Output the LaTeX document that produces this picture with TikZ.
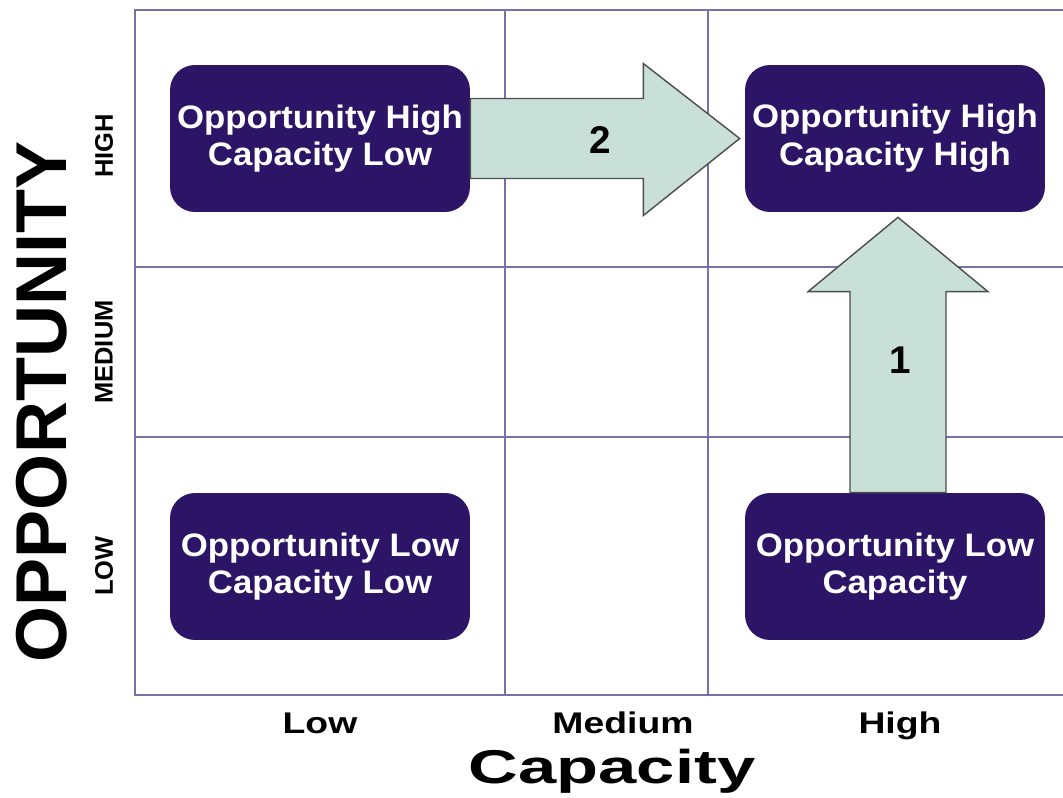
\documentclass[tikz,border=0pt]{standalone}
\usepackage{fontspec}
\setmainfont{Liberation Sans}
\newfontfamily\boxfont[FakeStretch=1.07]{Liberation Sans}
\newfontfamily\colfont[FakeStretch=1.25]{Liberation Sans}
\newfontfamily\capfont[FakeStretch=1.45]{Liberation Sans}
\usetikzlibrary{positioning,calc}

\definecolor{boxfill}{RGB}{44,21,102}
\definecolor{arrowfill}{RGB}{201,224,216}
\definecolor{gridcol}{RGB}{118,114,168}

\begin{document}
\begin{tikzpicture}[x=0.02cm, y=-0.02cm,
    box/.style={fill=boxfill, text=white, minimum width=6cm, minimum height=2.94cm, align=center, rounded corners=0.5cm, font=\boxfont\fontsize{18.5}{21.5}\selectfont\bfseries},
    bigarrow/.style={draw=black!70, fill=arrowfill, line width=0.8pt, line join=miter},
    gridline/.style={draw=gridcol, line width=1.1pt},
    rowlabel/.style={rotate=90, font=\fontsize{14.5}{16}\selectfont\bfseries},
    collabel/.style={anchor=base, font=\colfont\fontsize{17}{20}\selectfont\bfseries}]
    \useasboundingbox (0,0) rectangle (1063,798);

    % Grid
    \draw[gridline] (1063,10) -- (135,10) -- (135,695) -- (1063,695);
    \draw[gridline] (135,267) -- (1063,267);
    \draw[gridline] (135,437) -- (1063,437);
    \draw[gridline] (505,10) -- (505,695);
    \draw[gridline] (708,10) -- (708,695);

    % Quadrant boxes
    \node[box] (tl) at (320,138.5) {Opportunity High\\Capacity Low};
    \node[box] (tr) at (895,138.5) {Opportunity High\\Capacity High};
    \node[box] (bl) at (320,566.5) {Opportunity Low\\Capacity Low};
    \node[box] (br) at (895,566.5) {Opportunity Low\\Capacity};

    % Block arrows
    \draw[bigarrow] ($(tl.east)+(0,-40)$) -- ++(173,0) -- ++(0,-35)
        -- ($(tr.west)+(-5,0)$) -- ($(tl.east)+(173,77)$) -- ++(0,-37)
        -- ($(tl.east)+(0,40)$) -- cycle;
    \draw[bigarrow] ($(br.north)+(-45,0)$) -- ++(0,-201) -- ++(-42,0)
        -- ($(tr.south)+(3,5)$) -- ($(br.north)+(93,-201)$) -- ++(-42,0)
        -- ($(br.north)+(51,0)$) -- cycle;
    \node[font=\fontsize{22}{24}\selectfont\bfseries] (two) at (600,140) {2};
    \node[font=\fontsize{22}{24}\selectfont\bfseries] (one) at (900,360) {1};

    % Labels
    \node[rowlabel] (rhigh) at (104,146) {HIGH};
    \node[rowlabel] (rmed) at (104,352) {MEDIUM};
    \node[rowlabel] (rlow) at (104,566) {LOW};
    \node[rotate=90, font=\fontsize{41}{44}\selectfont\bfseries] (opp) at (42,402) {OPPORTUNITY};
    \node[collabel] (clow) at (320,733) {Low};
    \node[collabel] (cmed) at (623,733) {Medium};
    \node[collabel] (chigh) at (900,733) {High};
    \node[anchor=base, font=\capfont\fontsize{27}{30}\selectfont\bfseries] (cap) at (612,783) {Capacity};
\end{tikzpicture}
\end{document}
